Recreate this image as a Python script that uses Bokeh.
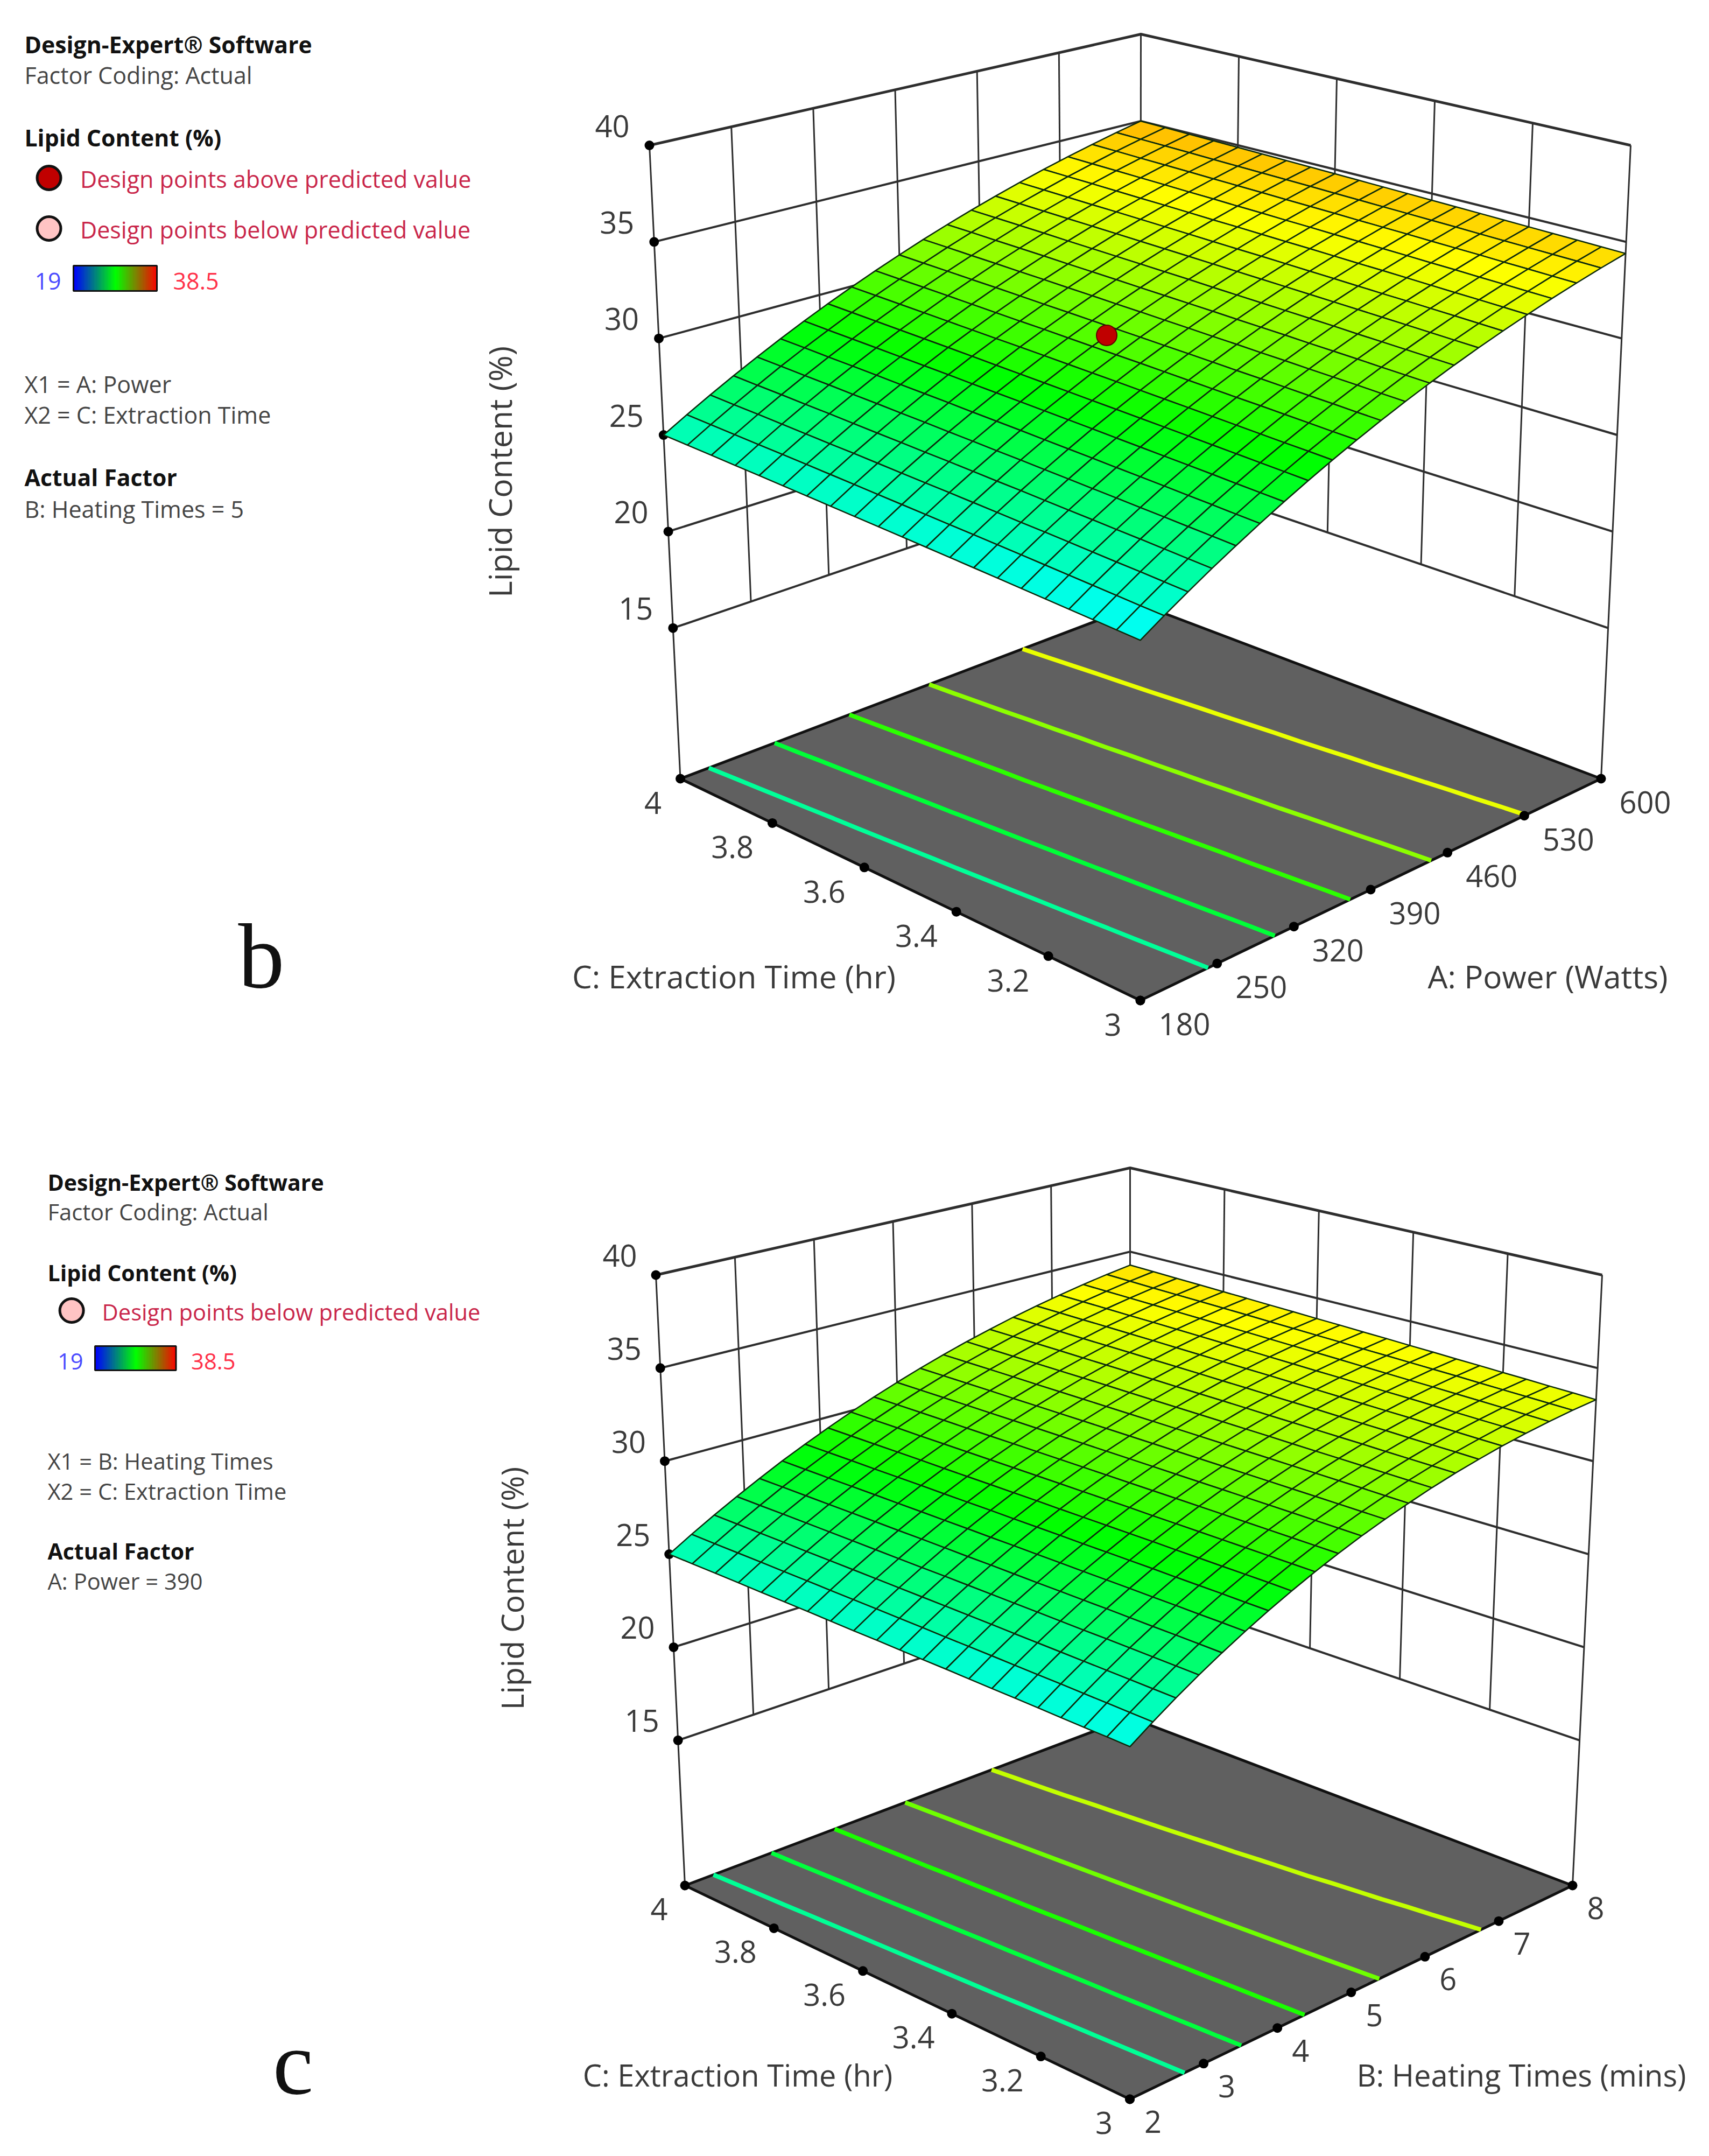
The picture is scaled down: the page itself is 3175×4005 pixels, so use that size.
import numpy as np
from bokeh.plotting import figure
from bokeh.embed import file_html
from bokeh.resources import INLINE
from bokeh.core.properties import value
from bokeh.models import Range1d, ColumnDataSource

# ---------- data ----------
z_ticks = [15, 20, 25, 30, 35, 40]
z_floor = 7.2
c_ticks = [3, 3.2, 3.4, 3.6, 3.8, 4]
c_tick_labels = ["3", "3.2", "3.4", "3.6", "3.8", "4"]
a_ticks = [180, 250, 320, 390, 460, 530, 600]
a_tick_labels = ["180", "250", "320", "390", "460", "530", "600"]
b_ticks = [2, 3, 4, 5, 6, 7, 8]
b_tick_labels = ["2", "3", "4", "5", "6", "7", "8"]

contour_levels_b = [25.85, 27.7, 29.6, 31.4, 33.2]
contour_levels_c = [25.9, 27.6, 29.25, 30.85, 32.45]

design_point_A = [390]
design_point_C = [3.57]
design_point_z = [30.1]

color_min = 19
color_max = 38.5

# rows: Extraction Time 3 .. 4 (21 rows); columns: factor low .. high (21 columns)
surface_b = [
[23.80,24.52,25.21,25.89,26.54,27.18,27.80,28.40,28.98,29.54,30.08,30.60,31.10,31.58,32.04,32.48,32.90,33.31,33.69,34.06,34.40],
[23.86,24.57,25.27,25.94,26.60,27.23,27.85,28.45,29.03,29.58,30.12,30.64,31.14,31.62,32.08,32.52,32.94,33.34,33.72,34.09,34.43],
[23.92,24.63,25.33,26.00,26.65,27.29,27.90,28.50,29.07,29.63,30.17,30.69,31.18,31.66,32.12,32.56,32.98,33.38,33.76,34.12,34.46],
[23.98,24.69,25.38,26.06,26.71,27.34,27.96,28.55,29.12,29.68,30.21,30.73,31.23,31.70,32.16,32.60,33.01,33.41,33.79,34.15,34.49],
[24.04,24.75,25.44,26.11,26.76,27.40,28.01,28.60,29.17,29.73,30.26,30.77,31.27,31.74,32.20,32.64,33.05,33.45,33.83,34.18,34.52],
[24.10,24.81,25.50,26.17,26.82,27.45,28.06,28.65,29.22,29.77,30.31,30.82,31.31,31.79,32.24,32.67,33.09,33.48,33.86,34.21,34.55],
[24.16,24.87,25.56,26.22,26.87,27.50,28.11,28.70,29.27,29.82,30.35,30.86,31.36,31.83,32.28,32.71,33.13,33.52,33.89,34.25,34.58],
[24.22,24.93,25.61,26.28,26.93,27.56,28.16,28.75,29.32,29.87,30.40,30.91,31.40,31.87,32.32,32.75,33.16,33.55,33.93,34.28,34.61],
[24.28,24.99,25.67,26.34,26.98,27.61,28.22,28.80,29.37,29.92,30.45,30.95,31.44,31.91,32.36,32.79,33.20,33.59,33.96,34.31,34.64],
[24.34,25.04,25.73,26.39,27.04,27.66,28.27,28.85,29.42,29.97,30.49,31.00,31.49,31.95,32.40,32.83,33.24,33.62,33.99,34.34,34.67],
[24.40,25.10,25.79,26.45,27.09,27.72,28.32,28.90,29.47,30.01,30.54,31.04,31.53,31.99,32.44,32.87,33.27,33.66,34.03,34.37,34.70],
[24.46,25.16,25.84,26.51,27.15,27.77,28.37,28.95,29.52,30.06,30.58,31.09,31.57,32.04,32.48,32.90,33.31,33.69,34.06,34.40,34.73],
[24.52,25.22,25.90,26.56,27.20,27.82,28.42,29.00,29.57,30.11,30.63,31.13,31.61,32.08,32.52,32.94,33.35,33.73,34.09,34.44,34.76],
[24.58,25.28,25.96,26.62,27.26,27.88,28.47,29.05,29.62,30.16,30.68,31.18,31.66,32.12,32.56,32.98,33.38,33.76,34.13,34.47,34.79],
[24.64,25.34,26.02,26.67,27.31,27.93,28.53,29.11,29.66,30.20,30.72,31.22,31.70,32.16,32.60,33.02,33.42,33.80,34.16,34.50,34.82],
[24.70,25.40,26.07,26.73,27.37,27.98,28.58,29.16,29.71,30.25,30.77,31.27,31.74,32.20,32.64,33.06,33.46,33.83,34.19,34.53,34.85],
[24.76,25.46,26.13,26.79,27.42,28.04,28.63,29.21,29.76,30.30,30.82,31.31,31.79,32.24,32.68,33.10,33.49,33.87,34.23,34.56,34.88],
[24.82,25.51,26.19,26.84,27.48,28.09,28.68,29.26,29.81,30.35,30.86,31.36,31.83,32.29,32.72,33.13,33.53,33.90,34.26,34.60,34.91],
[24.88,25.57,26.25,26.90,27.53,28.14,28.73,29.31,29.86,30.40,30.91,31.40,31.87,32.33,32.76,33.17,33.57,33.94,34.29,34.63,34.94],
[24.94,25.63,26.30,26.95,27.59,28.20,28.78,29.36,29.91,30.44,30.95,31.45,31.92,32.37,32.80,33.21,33.60,33.97,34.33,34.66,34.97],
[25.00,25.69,26.36,27.01,27.64,28.25,28.84,29.41,29.96,30.49,31.00,31.49,31.96,32.41,32.84,33.25,33.64,34.01,34.36,34.69,35.00],
]

surface_c = [
[24.06,24.83,25.57,26.27,26.94,27.58,28.19,28.76,29.31,29.82,30.30,30.74,31.15,31.54,31.89,32.20,32.49,32.74,32.96,33.15,33.30],
[24.11,24.87,25.61,26.31,26.98,27.62,28.22,28.80,29.34,29.85,30.33,30.77,31.18,31.57,31.92,32.24,32.52,32.78,33.00,33.19,33.35],
[24.15,24.92,25.65,26.35,27.02,27.65,28.26,28.83,29.37,29.88,30.36,30.80,31.22,31.60,31.95,32.27,32.56,32.81,33.04,33.23,33.39],
[24.20,24.96,25.69,26.39,27.05,27.69,28.29,28.86,29.40,29.91,30.39,30.83,31.25,31.63,31.98,32.30,32.59,32.85,33.08,33.27,33.44],
[24.25,25.01,25.73,26.43,27.09,27.72,28.32,28.89,29.43,29.94,30.42,30.86,31.28,31.66,32.02,32.34,32.63,32.89,33.12,33.31,33.48],
[24.30,25.05,25.77,26.46,27.13,27.76,28.36,28.92,29.46,29.97,30.45,30.89,31.31,31.69,32.05,32.37,32.66,32.93,33.16,33.36,33.53],
[24.34,25.09,25.81,26.50,27.16,27.79,28.39,28.96,29.49,30.00,30.48,30.92,31.34,31.72,32.08,32.40,32.70,32.96,33.19,33.40,33.57],
[24.39,25.14,25.85,26.54,27.20,27.82,28.42,28.99,29.52,30.03,30.51,30.95,31.37,31.76,32.11,32.44,32.73,33.00,33.23,33.44,33.62],
[24.44,25.18,25.90,26.58,27.23,27.86,28.45,29.02,29.56,30.06,30.54,30.98,31.40,31.79,32.14,32.47,32.77,33.04,33.27,33.48,33.66],
[24.48,25.22,25.94,26.62,27.27,27.89,28.49,29.05,29.59,30.09,30.57,31.01,31.43,31.82,32.18,32.50,32.80,33.07,33.31,33.52,33.71],
[24.53,25.27,25.98,26.66,27.31,27.93,28.52,29.08,29.62,30.12,30.60,31.04,31.46,31.85,32.21,32.54,32.84,33.11,33.35,33.57,33.75],
[24.58,25.31,26.02,26.70,27.34,27.96,28.55,29.12,29.65,30.15,30.63,31.07,31.49,31.88,32.24,32.57,32.87,33.15,33.39,33.61,33.80],
[24.62,25.36,26.06,26.73,27.38,28.00,28.59,29.15,29.68,30.18,30.66,31.10,31.52,31.91,32.27,32.61,32.91,33.19,33.43,33.65,33.84],
[24.67,25.40,26.10,26.77,27.42,28.03,28.62,29.18,29.71,30.21,30.69,31.13,31.55,31.94,32.31,32.64,32.94,33.22,33.47,33.69,33.89],
[24.72,25.44,26.14,26.81,27.45,28.07,28.65,29.21,29.74,30.24,30.72,31.16,31.58,31.98,32.34,32.67,32.98,33.26,33.51,33.74,33.93],
[24.77,25.49,26.18,26.85,27.49,28.10,28.69,29.24,29.77,30.27,30.75,31.19,31.61,32.01,32.37,32.71,33.02,33.30,33.55,33.78,33.98],
[24.81,25.53,26.22,26.89,27.53,28.14,28.72,29.28,29.80,30.30,30.78,31.22,31.64,32.04,32.40,32.74,33.05,33.34,33.59,33.82,34.02],
[24.86,25.58,26.27,26.93,27.56,28.17,28.75,29.31,29.83,30.34,30.81,31.26,31.68,32.07,32.44,32.77,33.09,33.37,33.63,33.86,34.07],
[24.91,25.62,26.31,26.97,27.60,28.20,28.79,29.34,29.87,30.37,30.84,31.29,31.71,32.10,32.47,32.81,33.12,33.41,33.67,33.90,34.11],
[24.95,25.66,26.35,27.00,27.64,28.24,28.82,29.37,29.90,30.40,30.87,31.32,31.74,32.13,32.50,32.84,33.16,33.45,33.71,33.95,34.16],
[25.00,25.71,26.39,27.04,27.67,28.28,28.85,29.40,29.93,30.43,30.90,31.35,31.77,32.17,32.53,32.88,33.19,33.48,33.75,33.99,34.20],
]

# ---------- layout: where each 3D box sits on the page ----------
box_b = dict(F0=(2118, 1858), R0=(2974, 1446), L0=(1263.5, 1446), B0=(2118, 1122),
             F1=(2118, 536), R1=(3029, 269.5), L1=(1206, 269.5), B1=(2119, 63))
box_c = dict(F0=(2098.5, 3899), R0=(2921, 3502), L0=(1272, 3502), B0=(2099, 3190),
             F1=(2099, 2625), R1=(2976, 2368), L1=(1218, 2368), B1=(2099, 2169))

FONT = value("Open Sans")
GRID = "#2e2e2e"
RAINBOW = [(0, 0, 255), (0, 255, 255), (0, 255, 0), (255, 255, 0), (255, 0, 0)]


def rainbow(z):
    t = (z - color_min) / (color_max - color_min) * 4
    t = max(0.0, min(3.9999, t))
    i = int(t)
    f = t - i
    c = [round(RAINBOW[i][k] + f * (RAINBOW[i + 1][k] - RAINBOW[i][k])) for k in range(3)]
    return "#%02x%02x%02x" % tuple(c)


def projector(box):
    """Trilinear placement of u (factor), v (time), z (response) inside the drawn box."""
    def proj(u, v, z):
        u, v, z = np.asarray(u, float), np.asarray(v, float), np.asarray(z, float)
        w = (z - z_floor) / (40 - z_floor)
        out = []
        for k in (0, 1):
            lo = ((1 - u) * (1 - v) * box["F0"][k] + u * (1 - v) * box["R0"][k]
                  + (1 - u) * v * box["L0"][k] + u * v * box["B0"][k])
            hi = ((1 - u) * (1 - v) * box["F1"][k] + u * (1 - v) * box["R1"][k]
                  + (1 - u) * v * box["L1"][k] + u * v * box["B1"][k])
            out.append(lo + (hi - lo) * w)
        return out
    return proj


p = figure(width=3159, height=3989, x_range=Range1d(0, 3159), y_range=Range1d(3989, 0),
           output_backend="svg", toolbar_location=None, x_axis_type=None, y_axis_type=None,
           min_border=0, outline_line_color=None, background_fill_color="white")
p.grid.visible = False


def put_text(items, size, color, bold=False, align="left", baseline="middle", angle=0.0, font=FONT,
             x_off=0, y_off=0):
    xs = [i[1] for i in items]
    ys = [i[2] for i in items]
    txt = [i[0] for i in items]
    p.text(xs, ys, text=txt, text_font=font, text_font_size=value(size), text_color=color,
           text_font_style="bold" if bold else "normal", text_align=align, text_baseline=baseline,
           angle=angle, x_offset=x_off, y_offset=y_off)


def draw_panel(box, surface, levels, f_ticks, f_labels, f_title, f_low, f_high, title_y,
               c_title_x, f_title_x, z_title, tick_size, title_size, z_size, c_dx, f_dx, c_dy, f_dy, z_dx, z_dy):
    proj = projector(box)
    uf = lambda a: (np.asarray(a, float) - f_low) / (f_high - f_low)
    vf = lambda c: (np.asarray(c, float) - 3.0) / 1.0

    # wall lines at each z tick
    for z in z_ticks:
        lw = 5 if z == 40 else 4
        xs, ys = proj([0, 1, 1], [1, 1, 0], [z, z, z])
        p.line(list(xs), list(ys), line_color=GRID, line_width=lw)
    # wall verticals from z = 15 to 40
    for a in f_ticks[1:-1]:
        xs, ys = proj([uf(a)] * 2, [1, 1], [15, 40])
        p.line(list(xs), list(ys), line_color=GRID, line_width=3)
    for c in c_ticks[1:-1]:
        xs, ys = proj([1, 1], [vf(c)] * 2, [15, 40])
        p.line(list(xs), list(ys), line_color=GRID, line_width=3)
    # corner verticals down to the floor
    for uu, vv in ((0, 1), (1, 1), (1, 0)):
        xs, ys = proj([uu, uu], [vv, vv], [z_floor, 40])
        p.line(list(xs), list(ys), line_color=GRID, line_width=3)

    # floor
    fx, fy = proj([0, 1, 1, 0], [0, 0, 1, 1], [z_floor] * 4)
    p.patch(list(fx), list(fy), fill_color="#606060", line_color="#111111", line_width=5)

    us = np.linspace(0, 1, 21)
    vs = np.linspace(0, 1, 21)
    for lev in levels:
        cu = [np.interp(lev, row, us) for row in surface]
        cx, cy = proj(cu, vs, [z_floor] * 21)
        p.line(list(cx), list(cy), line_color=rainbow(lev), line_width=8)

    # tick dots
    fu = uf(f_ticks)
    dx, dy = proj(fu, np.zeros(len(fu)), [z_floor] * len(fu))
    p.scatter(list(dx), list(dy), size=18, fill_color="black", line_color=None)
    put_text(list(zip(f_labels, dx, dy)), tick_size, "#3a3a3a", align="left", x_off=f_dx, y_off=f_dy)

    cv = vf(c_ticks)
    dx, dy = proj(np.zeros(len(cv)), cv, [z_floor] * len(cv))
    p.scatter(list(dx), list(dy), size=18, fill_color="black", line_color=None)
    put_text(list(zip(c_tick_labels, dx, dy)), tick_size, "#3a3a3a", align="right", x_off=c_dx, y_off=c_dy)

    dx, dy = proj(np.zeros(len(z_ticks)), np.ones(len(z_ticks)), z_ticks)
    p.scatter(list(dx), list(dy), size=18, fill_color="black", line_color=None)
    put_text(list(zip([str(z) for z in z_ticks], dx, dy)), tick_size, "#3a3a3a", align="right",
             x_off=z_dx, y_off=z_dy)

    # surface mesh, far cells first
    S = np.array(surface)
    qx, qy, qc = [], [], []
    for r in range(19, -1, -1):
        for i in range(19, -1, -1):
            uu = [us[i], us[i + 1], us[i + 1], us[i]]
            vv = [vs[r], vs[r], vs[r + 1], vs[r + 1]]
            zz = [S[r, i], S[r, i + 1], S[r + 1, i + 1], S[r + 1, i]]
            x, y = proj(uu, vv, zz)
            qx.append(list(x))
            qy.append(list(y))
            qc.append(rainbow(float(np.mean(zz))))
    src = ColumnDataSource(dict(xs=qx, ys=qy, c=qc))
    p.patches("xs", "ys", source=src, fill_color="c", line_color="#0c2a0c", line_width=2.5)

    # titles
    put_text([(f_title, f_title_x, title_y)], title_size, "#3a3a3a", align="center")
    put_text([("C: Extraction Time (hr)", c_title_x, title_y)], title_size, "#3a3a3a", align="center")
    put_text([("Lipid Content (%)", z_title[0], z_title[1])], z_size, "#3a3a3a", align="center", angle=np.pi / 2)
    return proj


def draw_legend(x0, rows, size, bold_size, bar, mark_x, mark_size, red_x, num_lo_x, num_hi_x, num_y):
    for kind, text, y in rows:
        if kind == "bold":
            put_text([(text, x0, y)], bold_size, "#111111", bold=True)
        elif kind == "reg":
            put_text([(text, x0, y)], size, "#454545")
        elif kind == "above" or kind == "below":
            fill = "#c00000" if kind == "above" else "#ffc4c4"
            p.scatter([mark_x], [y - 2], size=mark_size, fill_color=fill, line_color="#111111", line_width=5)
            put_text([(text, red_x, y)], size, "#c9264a")
    # colour key blue - green - red
    n = 60
    vals = np.linspace(color_min, color_max, n + 1)
    lefts = bar[0] + (bar[1] - bar[0]) * (vals[:-1] - color_min) / (color_max - color_min)
    rights = bar[0] + (bar[1] - bar[0]) * (vals[1:] - color_min) / (color_max - color_min)
    cols = []
    for v0 in vals[:-1]:
        t = (v0 - color_min) / (color_max - color_min) * 2
        if t < 1:
            cols.append("#%02x%02x%02x" % (0, round(255 * t), round(255 * (1 - t))))
        else:
            cols.append("#%02x%02x%02x" % (round(255 * (t - 1)), round(255 * (2 - t)), 0))
    p.quad(left=list(lefts), right=list(rights), top=[bar[2]] * n, bottom=[bar[3]] * n, fill_color=cols, line_color=cols, line_width=1)
    p.quad(left=[bar[0]], right=[bar[1]], top=[bar[2]], bottom=[bar[3]], fill_color=None, line_color="#111111", line_width=3)
    put_text([(str(color_min), num_lo_x, num_y)], size, "#4a4aff")
    put_text([(str(color_max), num_hi_x, num_y)], size, "#ff3048")


# ---------- panel b ----------
draw_legend(45, [("bold", "Design-Expert® Software", 82), ("reg", "Factor Coding: Actual", 139),
                 ("bold", "Lipid Content (%)", 255),
                 ("above", "Design points above predicted value", 332),
                 ("below", "Design points below predicted value", 426),
                 ("reg", "X1 = A: Power", 713), ("reg", "X2 = C: Extraction Time", 770),
                 ("bold", "Actual Factor", 886), ("reg", "B: Heating Times = 5", 945)],
            "43px", "42.7px", (136, 291, 493, 540), 90.5, 44, 148.5, 64, 321, 522)
proj_b = draw_panel(box_b, surface_b, contour_levels_b, a_ticks, a_tick_labels, "A: Power (Watts)", 180, 600,
                    1812, 1363, 2875, (927, 876), "56px", "58.5px", "59px", -35, 34, 45, 44, -37, -36)
dx, dy = proj_b((np.array(design_point_A) - 180) / 420, np.array(design_point_C) - 3, design_point_z)
p.scatter(list(dx), list(dy), size=38, fill_color="#c00000", line_color="#600000", line_width=2)
put_text([("b", 485, 1775)], "172px", "#111111", align="center", font=value("Liberation Serif"))

# ---------- panel c ----------
draw_legend(88, [("bold", "Design-Expert® Software", 2195), ("reg", "Factor Coding: Actual", 2250),
                 ("bold", "Lipid Content (%)", 2363),
                 ("below", "Design points below predicted value", 2436),
                 ("reg", "X1 = B: Heating Times", 2713), ("reg", "X2 = C: Extraction Time", 2769),
                 ("bold", "Actual Factor", 2880), ("reg", "A: Power = 390", 2936)],
            "41.7px", "41px", (176, 326.5, 2500, 2545), 132.6, 44, 189, 106.5, 354.6, 2528)
draw_panel(box_c, surface_c, contour_levels_c, b_ticks, b_tick_labels, "B: Heating Times (mins)", 2, 8,
           3853, 1370, 2826, (950, 2950), "56px", "56px", "57px", -32, 27, 44, 42, -35, -36)
put_text([("c", 544, 3831)], "170px", "#111111", align="center", font=value("Liberation Serif"))

open("out.html", "w").write(file_html(p, INLINE))
